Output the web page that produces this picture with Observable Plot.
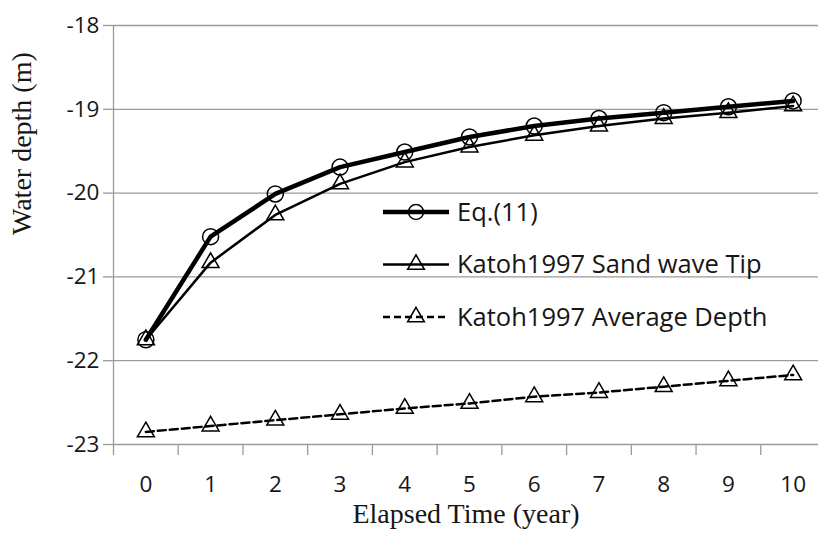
<!DOCTYPE html>
<html><head><meta charset="utf-8">
<script src="https://cdn.jsdelivr.net/npm/d3@7"></script>
<script src="https://cdn.jsdelivr.net/npm/@observablehq/plot@0.6"></script>
<style>
body{margin:0;background:#fff;}
#wrap{position:relative;width:818px;height:536px;overflow:hidden;}
#legend{position:absolute;left:0;top:0;pointer-events:none;}
</style></head><body><div id="wrap"></div>
<script>
const years = [0,1,2,3,4,5,6,7,8,9,10];
const eq11 = [-21.75,-20.52,-20.01,-19.69,-19.51,-19.33,-19.20,-19.11,-19.04,-18.97,-18.90];
const sandTip = [-21.75,-20.83,-20.26,-19.89,-19.63,-19.45,-19.31,-19.20,-19.11,-19.04,-18.96];
const avgDepth = [-22.85,-22.78,-22.71,-22.64,-22.57,-22.51,-22.43,-22.38,-22.31,-22.24,-22.17];
const yTicks = [-23,-22,-21,-20,-19,-18];
const seriesNames = ["Eq.(11)","Katoh1997 Sand wave Tip","Katoh1997 Average Depth"];
const xTitle = "Elapsed Time (year)";
const yTitle = "Water depth (m)";

const rows = years.map((yr,i)=>({year: yr, eq: eq11[i], tip: sandTip[i], avg: avgDepth[i]}));
const bounds = years.map(d=>d-0.5).concat([years[years.length-1]+0.5]);
const grid = "#9a9a9a";
const ink = "#161616";
const sans = "'Open Sans', sans-serif";
const serif = "'Liberation Serif', 'Times New Roman', serif";

const chart = Plot.plot({
  width: 818, height: 536,
  marginTop: 25, marginBottom: 92, marginLeft: 113, marginRight: 0,
  x: {domain: [-0.5, 10.5], range: [113, 825]},
  y: {domain: [-23, -18]},
  style: {fontFamily: sans, color: ink, background: "#fff"},
  marks: [
    Plot.ruleY(yTicks, {stroke: grid, strokeWidth: 1.3}),
    Plot.ruleX([-0.5], {y1: -23, y2: -18, stroke: grid, strokeWidth: 1.3}),
    Plot.axisY({ticks: yTicks, tickSize: 10, tickPadding: 4, fontSize: 22.5, stroke: grid, strokeWidth: 1.3, fill: ink, label: null, tickFormat: d => String(d).replace("−","-")}),
    Plot.axisX({ticks: bounds, tickSize: 11, tickFormat: () => "", stroke: grid, strokeWidth: 1.3, label: null}),
    Plot.axisX({ticks: years, tickSize: 0, tickPadding: 32, fontSize: 22.5, fill: ink, label: null}),
    Plot.text([xTitle], {frameAnchor: "bottom", dy: 78, fontFamily: serif, fontSize: 28, fill: ink}),
    Plot.text([yTitle], {frameAnchor: "left", dx: -91, rotate: -90, fontFamily: serif, fontSize: 28, fill: ink}),
    Plot.line(rows, {x: "year", y: "avg", stroke: "#000", strokeWidth: 2.5, strokeDasharray: "8,4"}),
    Plot.line(rows, {x: "year", y: "tip", stroke: "#000", strokeWidth: 2.5}),
    Plot.line(rows, {x: "year", y: "eq", stroke: "#000", strokeWidth: 4.5}),
    Plot.dot(rows, {x: "year", y: "avg", symbol: "triangle", r: 6.3, stroke: "#000", strokeWidth: 1.5, fill: "none"}),
    Plot.dot(rows, {x: "year", y: "tip", symbol: "triangle", r: 6.3, stroke: "#000", strokeWidth: 1.5, fill: "none"}),
    Plot.dot(rows, {x: "year", y: "eq", r: 8, stroke: "#000", strokeWidth: 1.5, fill: "none"})
  ]
});
const wrap = document.getElementById("wrap");
wrap.appendChild(chart);

// Legend overlay
const styles = [
  {w: 4.5, dash: null, sym: d3.symbolCircle, size: Math.PI*7.5*7.5},
  {w: 2.5, dash: null, sym: d3.symbolTriangle, size: Math.PI*6.2*6.2},
  {w: 2.5, dash: "7,4", sym: d3.symbolTriangle, size: Math.PI*6.2*6.2}
];
const lg = d3.select(wrap).append("svg").attr("id","legend").attr("width",818).attr("height",536);
seriesNames.forEach((name,i)=>{
  const g = lg.append("g").attr("transform", `translate(383,${212 + i*52.5})`);
  const s = styles[i];
  const ln = g.append("line").attr("x1",0).attr("x2",66).attr("y1",0).attr("y2",0)
    .attr("stroke","#000").attr("stroke-width",s.w);
  if (s.dash) ln.attr("stroke-dasharray", s.dash);
  g.append("path").attr("d", d3.symbol(s.sym, s.size)()).attr("transform","translate(33,0)")
    .attr("fill","none").attr("stroke","#000").attr("stroke-width",1.5);
  g.append("text").attr("x",74).attr("y",0).attr("dy","0.35em")
    .attr("font-family", sans).attr("font-size",25.5).attr("fill",ink).text(name);
});
</script></body></html>
